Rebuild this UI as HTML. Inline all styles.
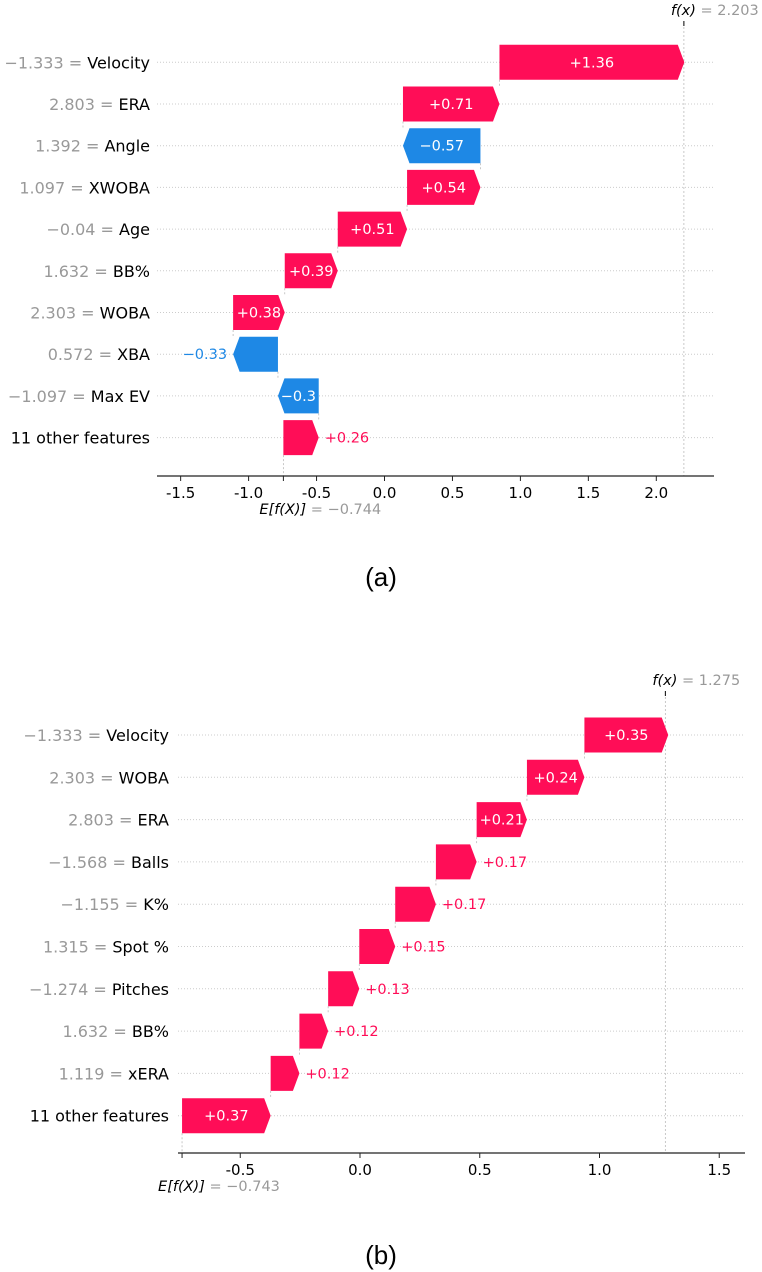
<!DOCTYPE html>
<html><head><meta charset="utf-8"><style>
html,body{margin:0;padding:0;background:#fff;}
svg{display:block;font-family:"DejaVu Sans","Liberation Sans",sans-serif;}
</style></head><body>
<svg id="root" width="762" height="1272" viewBox="0 0 762 1272"></svg>
<script>
// Chart (a) data (top to bottom)
const featA = ["Velocity","ERA","Angle","XWOBA","Age","BB%","WOBA","XBA","Max EV","11 other features"];
const fvalA = ["\u22121.333","2.803","1.392","1.097","\u22120.04","1.632","2.303","0.572","\u22121.097",""];
const shapA = [1.36,0.71,-0.57,0.54,0.51,0.39,0.38,-0.33,-0.3,0.26];
const baseA = -0.744;
const fxA = 2.203;
const ticksA = [-1.5,-1.0,-0.5,0.0,0.5,1.0,1.5,2.0];
// Chart (b) data
const featB = ["Velocity","WOBA","ERA","Balls","K%","Spot %","Pitches","BB%","xERA","11 other features"];
const fvalB = ["\u22121.333","2.303","2.803","\u22121.568","\u22121.155","1.315","\u22121.274","1.632","1.119",""];
const shapB = [0.35,0.24,0.21,0.17,0.17,0.15,0.13,0.12,0.12,0.37];
const baseB = -0.743;
const fxB = 1.275;
const ticksB = [-0.5,0.0,0.5,1.0,1.5];

const NS="http://www.w3.org/2000/svg";
const root=document.getElementById('root');
function mk(tag,attrs,parent,text){const e=document.createElementNS(NS,tag);for(const k in attrs)e.setAttribute(k,attrs[k]);if(text!==undefined)e.textContent=text;(parent||root).appendChild(e);return e;}
const RED="#ff0d57",BLUE="#1e88e5";

function draw(cfg,feat,fval,shap,base,fx,ticks){
  const g=mk('g',{});
  
  
  const X=v=>cfg.x0+v*cfg.unit;
  const Y=i=>cfg.y0+i*cfg.dy;
  const n=feat.length;
  const starts=new Array(n), ends=new Array(n);
  let cur=base;
  for(let i=n-1;i>=0;i--){starts[i]=cur;cur=cur+shap[i];ends[i]=cur;}
  const h=cfg.bh;
  for(let i=0;i<n;i++){
    const l=mk('line',{x1:cfg.axL,x2:cfg.axR,y1:Y(i),y2:Y(i),stroke:"#ccc","stroke-width":1,"stroke-dasharray":"1,2"},g);
    
    
  }
  const fl=mk('line',{x1:X(fx),x2:X(fx),y1:cfg.fxTop+6,y2:cfg.axY,stroke:"#bbb","stroke-width":0.8,"stroke-dasharray":"2,2"},g);
  
  
  const ft=mk('line',{x1:X(fx),x2:X(fx),y1:cfg.fxTop,y2:cfg.fxTop+5,stroke:"#000","stroke-width":1},g);
  
  
  const el=mk('line',{x1:X(base),x2:X(base),y1:Y(n-1)+h/2,y2:cfg.axY,stroke:"#bbb","stroke-width":0.8,"stroke-dasharray":"2,2"},g);
  
  
  for(let i=0;i<n-1;i++){
    const c=mk('line',{x1:X(starts[i]),x2:X(starts[i]),y1:Y(i)+h/2,y2:Y(i+1)-h/2,stroke:"#bbb","stroke-width":0.8,"stroke-dasharray":"2,2"},g);
    
    
  }
  for(let i=0;i<n;i++){
    const s=shap[i], pos=s>=0, col=pos?RED:BLUE;
    const a=X(starts[i]), b=X(ends[i]), yc=Y(i), yt=yc-h/2, yb=yc+h/2;
    const w=Math.abs(b-a), hw=Math.min(6.5,w);
    let pts;
    if(pos) pts=[[a,yt],[b-hw,yt],[b,yc],[b-hw,yb],[a,yb]];
    else pts=[[a,yt],[b+hw,yt],[b,yc],[b+hw,yb],[a,yb]];
    const p=mk('polygon',{points:pts.map(q=>q.join(',')).join(' '),fill:col},g);
    
    
    const txt=(pos?"+":"\u2212")+Math.abs(s).toString();
    const t=mk('text',{x:(a+b)/2,y:yc+5,"font-size":14.5,"text-anchor":"middle",fill:"#fff"},g,txt);
    
    
    const tw=t.getComputedTextLength();
    if(!(w>tw+4)){
      t.setAttribute('fill',col);
      if(pos){t.setAttribute('text-anchor','start');t.setAttribute('x',b+6);}
      else{t.setAttribute('text-anchor','end');t.setAttribute('x',b-6);}
    }
    const yl=mk('text',{x:cfg.labX,y:yc+6,"font-size":16,"text-anchor":"end",fill:"#000"},g);
    
    
    if(fval[i]!==""){mk('tspan',{fill:"#999"},yl,fval[i]+" = ");}
    mk('tspan',{fill:"#000"},yl,feat[i]);
  }
  const ax=mk('line',{x1:cfg.axL,x2:cfg.axR,y1:cfg.axY,y2:cfg.axY,stroke:"#222","stroke-width":1.2},g);
  
  
  for(const tv of ticks){
    const tk=mk('line',{x1:X(tv),x2:X(tv),y1:cfg.axY,y2:cfg.axY+5,stroke:"#222","stroke-width":1},g);
    
    
    const tl=mk('text',{x:X(tv),y:cfg.axY+22,"font-size":15,"text-anchor":"middle",fill:"#000"},g,tv.toFixed(1));
    
    
  }
  const et=mk('line',{x1:X(base),x2:X(base),y1:cfg.axY,y2:cfg.axY+5,stroke:"#222","stroke-width":1},g);
  
  
  const eL=mk('text',{x:X(base)-24,y:cfg.axY+38,"font-size":14.5,fill:"#000"},g);
  
  
  mk('tspan',{"font-style":"italic"},eL,"E[f(X)]");
  mk('tspan',{fill:"#999"},eL," = "+(base<0?"\u2212":"")+Math.abs(base).toFixed(3));
  const fL=mk('text',{x:X(fx)-13,y:cfg.fxTop-6,"font-size":14.5,fill:"#000"},g);
  
  
  mk('tspan',{"font-style":"italic"},fL,"f(x)");
  mk('tspan',{fill:"#999"},fL," = "+fx.toFixed(3));
  const cap=mk('text',{x:381,y:cfg.capY,"font-size":26,"text-anchor":"middle",fill:"#000","font-family":"Liberation Sans, sans-serif"},g,cfg.caption);
  
  
}

draw({name:'waterfall-chart-a',x0:384.5,unit:135.9,y0:62.3,dy:41.7,bh:35,axL:157,axR:714,axY:476,fxTop:21,labX:150,capY:586,caption:"(a)"},
  featA,fvalA,shapA,baseA,fxA,ticksA);
draw({name:'waterfall-chart-b',x0:360,unit:239.5,y0:735,dy:42.3,bh:35,axL:178,axR:745,axY:1153,fxTop:691,labX:169,capY:1264,caption:"(b)"},
  featB,fvalB,shapB,baseB,fxB,ticksB);
</script>
</body></html>
